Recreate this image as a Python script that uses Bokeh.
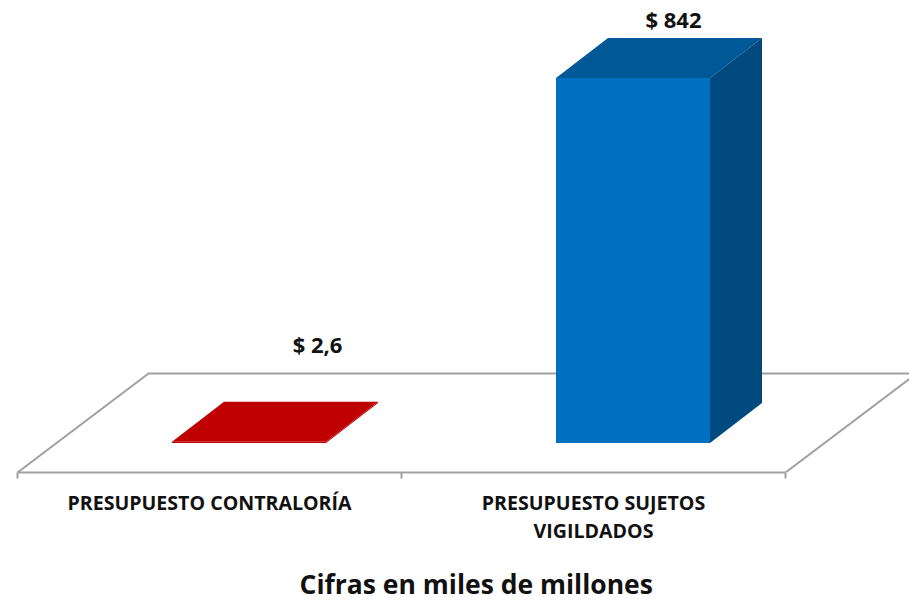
from bokeh.plotting import figure
from bokeh.models import LinearAxis, FixedTicker, Range1d, Title, ColumnDataSource
from bokeh.core.properties import value
from bokeh.embed import file_html
from bokeh.resources import INLINE

# data
categories = ["PRESUPUESTO CONTRALORÍA", "PRESUPUESTO SUJETOS\nVIGILDADOS"]
values = [2.6, 842]
value_labels = ["$ 2,6", "$ 842"]
caption = "Cifras en miles de millones"
front_colors = ["#C00000", "#0070C0"]
top_colors = ["#C00000", "#005896"]
side_colors = ["#C00000", "#004A80"]

# layout constants (pixels of the 3-D projection converted to data units)
PX_X = 384.0
PX_Y = 365.0 / 842
def dx(px): return px / PX_X
def dy(px): return px / PX_Y

FONT = "Open Sans"
p = figure(frame_width=909, frame_height=472, output_backend="svg",
           toolbar_location=None, x_axis_type=None, y_axis_type=None,
           x_range=Range1d(dx(-209), dx(700)), y_range=Range1d(dy(-29.5), dy(442.5)),
           min_border=0, outline_line_color=None, background_fill_color="white",
           border_fill_color="white")
p.grid.visible = False

floor_y = dy(-29.5)
depth_x, depth_y = dx(131), dy(99)
left, right = -0.5, 1.5
GRID = "#A0A0A0"
p.line([left, left + depth_x, right + depth_x, right], [floor_y, floor_y + depth_y, floor_y + depth_y, floor_y],
       line_color=GRID, line_width=2)

bar_w = dx(154)
off_x, bar_dx, bar_dy = dx(39.5), dx(52), dy(40)
for i, v in enumerate(values):
    x0 = i + off_x - bar_w / 2
    x1 = x0 + bar_w
    p.patch([x0, x1, x1, x0], [0, 0, v, v], fill_color=front_colors[i], line_color=None)
    p.patch([x0, x1, x1 + bar_dx, x0 + bar_dx], [v, v, v + bar_dy, v + bar_dy],
            fill_color=top_colors[i], line_color=None)
    p.patch([x1, x1 + bar_dx, x1 + bar_dx, x1], [0, bar_dy, v + bar_dy, v],
            fill_color=side_colors[i], line_color=None)

src = ColumnDataSource(dict(x=[0, 1], y=values, t=value_labels,
                            xo=[108, 80], yo=[-98, -59]))
p.text("x", "y", text="t", source=src, x_offset="xo", y_offset="yo",
       text_font=value(FONT), text_font_style="bold", text_font_size="22px",
       text_align="center", text_baseline="middle", text_color="#111111")

axis = LinearAxis(ticker=FixedTicker(ticks=[0, 1], minor_ticks=[-0.5, 0.5, 1.5]),
                  bounds=(left, right),
                  major_label_overrides={0: categories[0], 1: categories[1]},
                  axis_line_color=GRID, axis_line_width=2,
                  major_tick_line_color=None, major_tick_in=0, major_tick_out=0,
                  minor_tick_line_color=GRID, minor_tick_line_width=2,
                  minor_tick_in=0, minor_tick_out=6,
                  major_label_standoff=10,
                  major_label_text_line_height=1.05,
                  major_label_text_font=FONT, major_label_text_font_style="bold",
                  major_label_text_font_size="19.6px", major_label_text_color="#111111")
p.add_layout(axis, "below")

t = Title(text=caption, align="left", offset=299, text_font=FONT, text_font_style="bold",
          text_font_size="26.5px", text_color="#111111", standoff=35, text_line_height=1.0)
p.add_layout(t, "below")

open("out.html", "w").write(file_html(p, INLINE))
